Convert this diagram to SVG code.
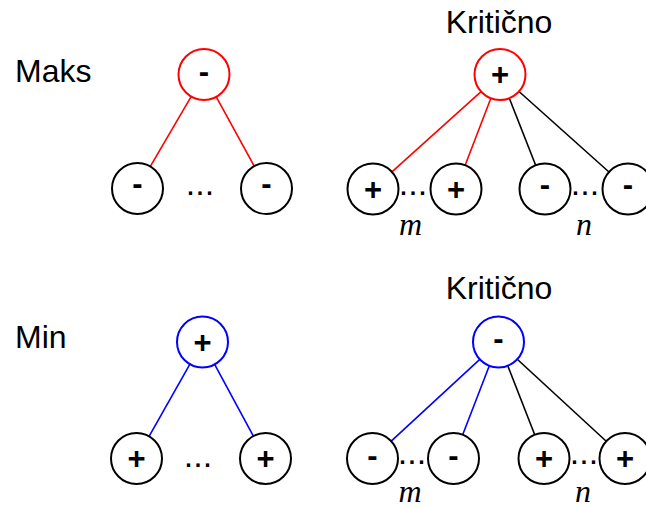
<svg xmlns="http://www.w3.org/2000/svg" width="646" height="508" viewBox="0 0 646 508">
<style>
.node circle{fill:#fff;stroke:#000;stroke-width:2}
.node.red circle{stroke:#f00}
.node.blue circle{stroke:#00f}
.sign{font-family:"Liberation Sans",Arial,sans-serif;font-size:31px;font-weight:bold;text-anchor:middle;fill:#000}
.lbl{font-family:"Liberation Sans",Arial,sans-serif;font-size:32px;fill:#000}
.dots{font-family:"Liberation Sans",Arial,sans-serif;font-size:34px;text-anchor:middle;fill:#000}
.var{font-family:"Liberation Serif","Times New Roman",serif;font-size:32px;font-style:italic;text-anchor:middle;fill:#000}
.e{stroke-width:1.6;fill:none}
.r{stroke:#f00}.b{stroke:#00f}.k{stroke:#000}
</style>
<rect width="646" height="508" fill="#fff"/>
<g id="labels">
<text class="lbl" x="15" y="82">Maks</text>
<text class="lbl" x="15" y="348">Min</text>
<text class="lbl" x="499" y="33" text-anchor="middle">Kritično</text>
<text class="lbl" x="499" y="299" text-anchor="middle">Kritično</text>
<text class="dots" x="200" y="195">...</text>
<text class="dots" x="413" y="195">...</text>
<text class="dots" x="585" y="195">...</text>
<text class="dots" x="198" y="467">...</text>
<text class="dots" x="412" y="464">...</text>
<text class="dots" x="584" y="464">...</text>
<text class="var" x="410.5" y="235">m</text>
<text class="var" x="584" y="235">n</text>
<text class="var" x="410" y="502">m</text>
<text class="var" x="583" y="502">n</text>
</g>
<g id="connectors">
<line class="e r" x1="191.15" y1="96.53" x2="150.35" y2="166.47"/>
<line class="e r" x1="216.26" y1="96.86" x2="254.24" y2="166.14"/>
<line class="e r" x1="481.06" y1="91.57" x2="391.94" y2="171.93"/>
<line class="e r" x1="490.85" y1="98.3" x2="465.15" y2="165.2"/>
<line class="e k" x1="509.33" y1="98.23" x2="535.67" y2="165.27"/>
<line class="e k" x1="519.01" y1="91.5" x2="608.99" y2="172"/>
<line class="e b" x1="189.93" y1="364.19" x2="149.07" y2="436.31"/>
<line class="e b" x1="214.63" y1="364.43" x2="253.37" y2="436.07"/>
<line class="e b" x1="479.78" y1="359.31" x2="391.22" y2="441.19"/>
<line class="e b" x1="489.31" y1="365.79" x2="462.69" y2="434.71"/>
<line class="e k" x1="507.78" y1="365.75" x2="534.72" y2="434.75"/>
<line class="e k" x1="517.26" y1="359.27" x2="606.24" y2="441.23"/>
</g>
<g id="maks-root" class="node red"><circle cx="204" cy="74.5" r="25.5"/><text class="sign" x="204" y="81.5">-</text></g>
<g id="maks-c1" class="node"><circle cx="137.5" cy="188.5" r="25.5"/><text class="sign" x="137.5" y="194">-</text></g>
<g id="maks-c2" class="node"><circle cx="266.5" cy="188.5" r="25.5"/><text class="sign" x="266.5" y="194">-</text></g>
<g id="kmax-root" class="node red"><circle cx="500" cy="74.5" r="25.5"/><text class="sign" x="500" y="85">+</text></g>
<g id="kmax-c1" class="node"><circle cx="373" cy="189" r="25.5"/><text class="sign" x="373" y="199.5">+</text></g>
<g id="kmax-c2" class="node"><circle cx="456" cy="189" r="25.5"/><text class="sign" x="456" y="199.5">+</text></g>
<g id="kmax-c3" class="node"><circle cx="545" cy="189" r="25.5"/><text class="sign" x="545" y="195">-</text></g>
<g id="kmax-c4" class="node"><circle cx="628" cy="189" r="25.5"/><text class="sign" x="628" y="195">-</text></g>
<g id="min-root" class="node blue"><circle cx="202.5" cy="342" r="25.5"/><text class="sign" x="202.5" y="352.5">+</text></g>
<g id="min-c1" class="node"><circle cx="136.5" cy="458.5" r="25.5"/><text class="sign" x="136.5" y="469">+</text></g>
<g id="min-c2" class="node"><circle cx="265.5" cy="458.5" r="25.5"/><text class="sign" x="265.5" y="469">+</text></g>
<g id="kmin-root" class="node blue"><circle cx="498.5" cy="342" r="25.5"/><text class="sign" x="498.5" y="349">-</text></g>
<g id="kmin-c1" class="node"><circle cx="372.5" cy="458.5" r="25.5"/><text class="sign" x="372.5" y="465.5">-</text></g>
<g id="kmin-c2" class="node"><circle cx="453.5" cy="458.5" r="25.5"/><text class="sign" x="453.5" y="465.5">-</text></g>
<g id="kmin-c3" class="node"><circle cx="544" cy="458.5" r="25.5"/><text class="sign" x="544" y="469">+</text></g>
<g id="kmin-c4" class="node"><circle cx="625" cy="458.5" r="25.5"/><text class="sign" x="625" y="469">+</text></g>
</svg>
